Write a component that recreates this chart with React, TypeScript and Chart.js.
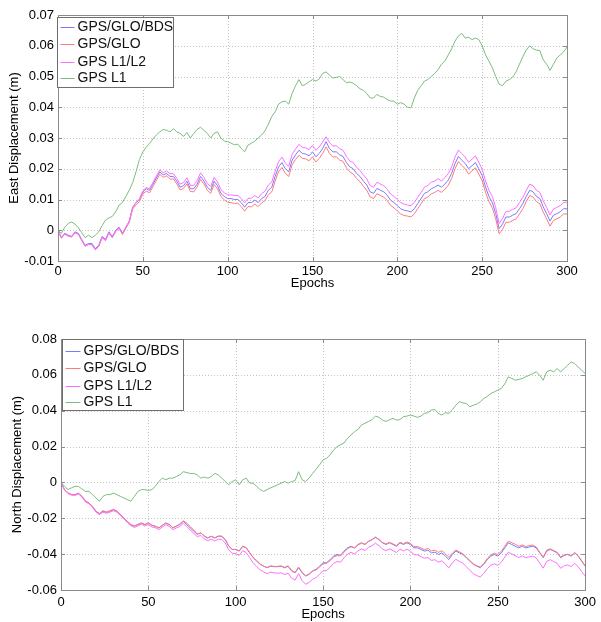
import React, { useEffect, useRef } from "react";
import { Chart, registerables } from "chart.js";
Chart.register(...registerables);

// ---- categories (epochs, every 2nd epoch) ----
const epochs: number[] = Array.from({ length: 151 }, (_, i) => i * 2);

const seriesNames = ["GPS/GLO/BDS", "GPS/GLO", "GPS L1/L2", "GPS L1"];

const xTickValues = [0, 50, 100, 150, 200, 250, 300];
const xTickLabels = ["0", "50", "100", "150", "200", "250", "300"];
const eastTickValues = [-0.01, 0, 0.01, 0.02, 0.03, 0.04, 0.05, 0.06, 0.07];
const eastTickLabels = ["-0.01", "0", "0.01", "0.02", "0.03", "0.04", "0.05", "0.06", "0.07"];
const northTickValues = [-0.06, -0.04, -0.02, 0, 0.02, 0.04, 0.06, 0.08];
const northTickLabels = ["-0.06", "-0.04", "-0.02", "0", "0.02", "0.04", "0.06", "0.08"];

// ---- East displacement (m) ----
const eastBDS = [
  0, -0.0024, -0.001, -0.0016, -0.002, -0.0005, -0.001, -0.003, -0.0049, -0.0043,
  -0.0043, -0.006, -0.0049, -0.002, -0.003, -0.0005, -0.002, 0, 0.001, -0.001,
  0.001, 0.003, 0.0075, 0.009, 0.01, 0.0125, 0.0135, 0.013, 0.015, 0.017,
  0.019, 0.018, 0.0185, 0.0175, 0.0175, 0.016, 0.014, 0.0145, 0.016, 0.0135,
  0.0135, 0.015, 0.0175, 0.016, 0.014, 0.013, 0.016, 0.0145, 0.012, 0.011,
  0.0103, 0.0103, 0.01, 0.01, 0.009, 0.0075, 0.009, 0.009, 0.0098, 0.009,
  0.0103, 0.011, 0.013, 0.014, 0.0175, 0.0206, 0.022, 0.02, 0.019, 0.0228,
  0.0245, 0.026, 0.025, 0.0248, 0.0242, 0.0255, 0.0239, 0.025, 0.0266, 0.0288,
  0.0266, 0.0255, 0.0255, 0.0245, 0.024, 0.022, 0.0206, 0.02, 0.0185, 0.0175,
  0.016, 0.0147, 0.0125, 0.012, 0.0136, 0.013, 0.0125, 0.0114, 0.0098, 0.009,
  0.008, 0.007, 0.0065, 0.0063, 0.006, 0.007, 0.0087, 0.0103, 0.012, 0.0125,
  0.0135, 0.014, 0.0147, 0.014, 0.015, 0.0163, 0.0185, 0.0217, 0.024, 0.0228,
  0.0217, 0.02, 0.021, 0.022, 0.02, 0.0178, 0.014, 0.011, 0.009, 0.0054,
  0.0005, 0.002, 0.0043, 0.0043, 0.0049, 0.0054, 0.007, 0.0087, 0.011, 0.013,
  0.0125, 0.011, 0.0103, 0.0076, 0.0054, 0.003, 0.0049, 0.0054, 0.006, 0.007,
  0.007,
];
const eastGLO = [
  0, -0.0026, -0.0012, -0.0018, -0.0022, -0.0008, -0.0013, -0.0033, -0.0052, -0.0046,
  -0.0047, -0.0063, -0.0052, -0.0024, -0.0034, -0.0009, -0.0024, -0.0004, 0.0006, -0.0014,
  0.0006, 0.0025, 0.0069, 0.0083, 0.0093, 0.0118, 0.0127, 0.0122, 0.0142, 0.0162,
  0.0182, 0.0172, 0.0177, 0.0166, 0.0167, 0.0151, 0.0131, 0.0136, 0.0151, 0.0126,
  0.0125, 0.0141, 0.0165, 0.0151, 0.013, 0.012, 0.0149, 0.0135, 0.011, 0.0099,
  0.0091, 0.009, 0.0087, 0.0088, 0.0077, 0.0062, 0.0077, 0.0076, 0.0085, 0.0077,
  0.0089, 0.0096, 0.0116, 0.0125, 0.016, 0.0191, 0.0204, 0.0185, 0.0175, 0.0213,
  0.023, 0.0244, 0.0234, 0.0232, 0.0226, 0.0239, 0.0222, 0.0234, 0.025, 0.0271,
  0.025, 0.0238, 0.0239, 0.0228, 0.0224, 0.0203, 0.019, 0.0183, 0.0168, 0.0158,
  0.0143, 0.013, 0.0108, 0.0103, 0.0119, 0.0113, 0.0108, 0.0097, 0.0081, 0.0073,
  0.0063, 0.0053, 0.0048, 0.0046, 0.0043, 0.0053, 0.007, 0.0086, 0.0103, 0.0108,
  0.0118, 0.0123, 0.013, 0.0123, 0.0133, 0.0146, 0.0168, 0.02, 0.0223, 0.0211,
  0.02, 0.0183, 0.0193, 0.0203, 0.0183, 0.0161, 0.0123, 0.0093, 0.0073, 0.0037,
  -0.0012, 0.0003, 0.0026, 0.0026, 0.0032, 0.0037, 0.0053, 0.007, 0.0093, 0.0113,
  0.0108, 0.0093, 0.0086, 0.0059, 0.0037, 0.0013, 0.0032, 0.0037, 0.0043, 0.0053,
  0.0053,
];
const eastL1L2 = [
  0, -0.0025, -0.0013, -0.0019, -0.0022, -0.0007, -0.0013, -0.0033, -0.0052, -0.0046,
  -0.0047, -0.0064, -0.0053, -0.0023, -0.0033, -0.0008, -0.0023, -0.0002, 0.0008, -0.0012,
  0.0008, 0.0028, 0.0074, 0.009, 0.0102, 0.0128, 0.0139, 0.0135, 0.0156, 0.0177,
  0.0197, 0.0187, 0.0193, 0.0184, 0.0184, 0.0169, 0.015, 0.0155, 0.0171, 0.0146,
  0.0146, 0.0161, 0.0187, 0.0172, 0.0152, 0.0142, 0.0172, 0.0157, 0.0132, 0.0122,
  0.0115, 0.0115, 0.0113, 0.0113, 0.0103, 0.0089, 0.0104, 0.0104, 0.0113, 0.0105,
  0.0119, 0.0127, 0.0147, 0.0157, 0.0192, 0.0223, 0.0238, 0.0218, 0.0208, 0.0247,
  0.0264, 0.0279, 0.027, 0.0268, 0.0262, 0.0276, 0.026, 0.0271, 0.0287, 0.0304,
  0.0285, 0.0274, 0.0275, 0.0265, 0.026, 0.024, 0.0225, 0.022, 0.0205, 0.0194,
  0.018, 0.0167, 0.0145, 0.014, 0.0156, 0.015, 0.0145, 0.0134, 0.0118, 0.011,
  0.01, 0.009, 0.0085, 0.0082, 0.008, 0.009, 0.0107, 0.0123, 0.014, 0.0146,
  0.0156, 0.016, 0.0168, 0.016, 0.0171, 0.0184, 0.0206, 0.0238, 0.0261, 0.0249,
  0.0238, 0.0221, 0.0231, 0.0242, 0.0221, 0.0199, 0.016, 0.013, 0.011, 0.0073,
  0.0022, 0.0038, 0.0061, 0.0062, 0.0068, 0.0073, 0.009, 0.0107, 0.013, 0.015,
  0.0145, 0.013, 0.0123, 0.0096, 0.0074, 0.005, 0.0069, 0.0074, 0.008, 0.009,
  0.0092,
];
const eastL1 = [
  0, -0.001, 0.001, 0.0022, 0.0027, 0.002, 0.0008, -0.0008, -0.0024, -0.0016,
  -0.0024, -0.0016, -0.0005, 0.0015, 0.0033, 0.004, 0.0045, 0.006, 0.0082, 0.009,
  0.011, 0.013, 0.0155, 0.019, 0.023, 0.0255, 0.027, 0.0283, 0.0297, 0.031,
  0.032, 0.0328, 0.0325, 0.032, 0.033, 0.032, 0.0315, 0.0305, 0.0318, 0.03,
  0.0315, 0.0328, 0.0335, 0.0325, 0.0315, 0.03, 0.0315, 0.032, 0.03, 0.029,
  0.0288, 0.0283, 0.0278, 0.028, 0.0266, 0.0255, 0.0277, 0.0283, 0.029, 0.03,
  0.031, 0.0323, 0.0345, 0.037, 0.0385, 0.041, 0.0418, 0.042, 0.041, 0.0445,
  0.047, 0.049, 0.047, 0.0475, 0.0483, 0.049, 0.0485, 0.0492, 0.051, 0.0515,
  0.0505, 0.0495, 0.0497, 0.05, 0.049, 0.048, 0.0482, 0.0478, 0.047, 0.046,
  0.0455, 0.0445, 0.043, 0.043, 0.0442, 0.0435, 0.0433, 0.0425, 0.042, 0.042,
  0.041, 0.0415, 0.041, 0.04, 0.0398, 0.043, 0.0455, 0.047, 0.0485, 0.049,
  0.05, 0.051, 0.0522, 0.054, 0.055, 0.057, 0.059, 0.0615, 0.0632, 0.064,
  0.0625, 0.0628, 0.062, 0.0625, 0.062, 0.06, 0.057, 0.055, 0.0528, 0.05,
  0.0475, 0.047, 0.0485, 0.049, 0.0498, 0.0515, 0.054, 0.0565, 0.0586, 0.06,
  0.059, 0.0586, 0.0584, 0.0554, 0.054, 0.052, 0.054, 0.056, 0.057, 0.058,
  0.0596,
];

// ---- North displacement (m) ----
const northBDS = [
  0, -0.004, -0.006, -0.0068, -0.0068, -0.006, -0.0078, -0.0105, -0.0115, -0.0133,
  -0.016, -0.0174, -0.016, -0.0167, -0.016, -0.0152, -0.016, -0.018, -0.0198, -0.0217,
  -0.0235, -0.0244, -0.0235, -0.0226, -0.0235, -0.0226, -0.024, -0.0244, -0.0254, -0.024,
  -0.0226, -0.0235, -0.0254, -0.0244, -0.0235, -0.0217, -0.0235, -0.0254, -0.0272, -0.029,
  -0.0281, -0.03, -0.031, -0.03, -0.031, -0.03, -0.03, -0.0319, -0.0356, -0.0374,
  -0.0374, -0.0383, -0.0356, -0.0365, -0.0393, -0.042, -0.0439, -0.0457, -0.0467, -0.0476,
  -0.0467, -0.047, -0.047, -0.0467, -0.0476, -0.0467, -0.0494, -0.0504, -0.0476, -0.0504,
  -0.0522, -0.0513, -0.0494, -0.0485, -0.0467, -0.0448, -0.0448, -0.043, -0.0411, -0.0402,
  -0.0407, -0.0383, -0.0365, -0.0356, -0.0365, -0.0346, -0.0337, -0.0346, -0.0328, -0.0319,
  -0.0305, -0.0319, -0.0337, -0.0346, -0.0337, -0.0346, -0.0356, -0.0337, -0.0346, -0.0337,
  -0.0346, -0.0365, -0.0365, -0.0374, -0.0383, -0.0378, -0.0393, -0.0389, -0.0402, -0.0393,
  -0.0411, -0.043, -0.0402, -0.0383, -0.0393, -0.0402, -0.042, -0.0439, -0.0457, -0.0467,
  -0.0476, -0.0457, -0.043, -0.0411, -0.0402, -0.0411, -0.0393, -0.0365, -0.0337, -0.0346,
  -0.0356, -0.0365, -0.0356, -0.0365, -0.036, -0.0356, -0.0365, -0.0393, -0.042, -0.0383,
  -0.0374, -0.0383, -0.0393, -0.042, -0.0407, -0.0402, -0.0411, -0.0393, -0.0411, -0.0439,
  -0.0467,
];
const northGLO = [
  0, -0.004, -0.0058, -0.0067, -0.0069, -0.0062, -0.0077, -0.0103, -0.0114, -0.0134,
  -0.0162, -0.0176, -0.0158, -0.0165, -0.0158, -0.015, -0.0159, -0.0181, -0.0199, -0.0219,
  -0.0236, -0.0243, -0.0234, -0.0227, -0.0236, -0.0225, -0.0238, -0.0245, -0.0253, -0.0238,
  -0.0227, -0.0236, -0.0252, -0.0243, -0.0232, -0.0214, -0.0228, -0.0246, -0.0266, -0.0288,
  -0.0282, -0.0298, -0.0309, -0.0301, -0.0309, -0.0299, -0.0301, -0.0318, -0.0354, -0.0373,
  -0.0375, -0.0381, -0.0357, -0.0363, -0.0391, -0.0419, -0.0436, -0.0455, -0.0468, -0.0474,
  -0.0465, -0.0469, -0.0468, -0.0466, -0.0474, -0.0465, -0.0491, -0.0502, -0.0472, -0.0501,
  -0.052, -0.0511, -0.0495, -0.0488, -0.0472, -0.0454, -0.0452, -0.0436, -0.0417, -0.0408,
  -0.041, -0.0388, -0.037, -0.0359, -0.0366, -0.0349, -0.0339, -0.0345, -0.033, -0.032,
  -0.0307, -0.0318, -0.0335, -0.0343, -0.0334, -0.0343, -0.0352, -0.0334, -0.0342, -0.0332,
  -0.034, -0.0358, -0.0357, -0.0366, -0.0375, -0.0368, -0.0382, -0.0378, -0.039, -0.0381,
  -0.0398, -0.0418, -0.0394, -0.0378, -0.0387, -0.0398, -0.0416, -0.0436, -0.0454, -0.0465,
  -0.0472, -0.0452, -0.0424, -0.0404, -0.0395, -0.0402, -0.0384, -0.0356, -0.0328, -0.0336,
  -0.0345, -0.0356, -0.0348, -0.0358, -0.0352, -0.0349, -0.036, -0.039, -0.0416, -0.0378,
  -0.037, -0.038, -0.039, -0.0416, -0.0404, -0.04, -0.0408, -0.0391, -0.0408, -0.0437,
  -0.0465,
];
const northL1L2 = [
  0, -0.0042, -0.0062, -0.0071, -0.0072, -0.0064, -0.0082, -0.0109, -0.0119, -0.0138,
  -0.0165, -0.018, -0.0166, -0.0172, -0.0166, -0.0158, -0.0166, -0.0186, -0.0204, -0.0223,
  -0.0241, -0.0251, -0.0242, -0.0233, -0.0243, -0.0234, -0.0248, -0.0253, -0.0263, -0.0249,
  -0.0236, -0.0245, -0.0264, -0.0254, -0.0246, -0.0228, -0.0246, -0.0266, -0.0284, -0.0303,
  -0.0295, -0.0315, -0.0325, -0.0316, -0.0327, -0.0317, -0.0318, -0.0338, -0.0376, -0.0395,
  -0.0397, -0.0407, -0.0381, -0.0391, -0.042, -0.0449, -0.0469, -0.0488, -0.0499, -0.0509,
  -0.0501, -0.0505, -0.0506, -0.0504, -0.0514, -0.0506, -0.0534, -0.0545, -0.0509, -0.0548,
  -0.0568, -0.0558, -0.054, -0.0531, -0.0512, -0.0493, -0.0492, -0.0473, -0.0452, -0.0441,
  -0.0445, -0.042, -0.04, -0.039, -0.0399, -0.0381, -0.0371, -0.038, -0.0362, -0.0353,
  -0.0339, -0.0353, -0.0371, -0.038, -0.0371, -0.038, -0.0391, -0.0372, -0.0382, -0.0373,
  -0.0383, -0.0403, -0.0404, -0.0414, -0.0423, -0.0419, -0.0435, -0.0431, -0.0445, -0.0437,
  -0.0456, -0.0476, -0.0448, -0.0429, -0.044, -0.045, -0.047, -0.049, -0.0509, -0.052,
  -0.0527, -0.0508, -0.0481, -0.0462, -0.0454, -0.0463, -0.0445, -0.0417, -0.0389, -0.0399,
  -0.0409, -0.0419, -0.041, -0.042, -0.0415, -0.0411, -0.0421, -0.045, -0.0478, -0.044,
  -0.0431, -0.0441, -0.0451, -0.0479, -0.0465, -0.046, -0.047, -0.0451, -0.047, -0.0497,
  -0.0522,
];
const northL1 = [
  0, -0.0022, -0.004, -0.003, -0.0022, -0.0022, -0.0037, -0.005, -0.005, -0.0068,
  -0.0087, -0.0105, -0.0078, -0.0068, -0.0068, -0.006, -0.0068, -0.0078, -0.0087, -0.0096,
  -0.0105, -0.0078, -0.005, -0.004, -0.004, -0.0045, -0.004, -0.0022, 0.0005, 0.0024,
  0.0015, 0.0024, 0.0024, 0.0033, 0.0042, 0.006, 0.0055, 0.005, 0.005, 0.0042,
  0.0024, 0.003, 0.0024, 0.0033, 0.005, 0.0042, 0.0024, 0.0005, -0.0013, 0.0005,
  0.0015, -0.0013, 0.0015, 0.0024, -0.0004, -0.0004, -0.0022, -0.004, -0.005, -0.004,
  -0.003, -0.0022, -0.0013, -0.0004, 0.0005, -0.0004, 0.0005, 0.001, 0.006, 0.0015,
  0.0005, 0.0024, 0.005, 0.0074, 0.0098, 0.0126, 0.0135, 0.0154, 0.018, 0.02,
  0.021, 0.022, 0.0246, 0.0265, 0.0283, 0.0296, 0.032, 0.033, 0.034, 0.035,
  0.037, 0.0363, 0.0348, 0.034, 0.035, 0.0357, 0.0348, 0.035, 0.0367, 0.037,
  0.0376, 0.037, 0.0363, 0.037, 0.0385, 0.0389, 0.0404, 0.0407, 0.0385, 0.0376,
  0.0389, 0.0385, 0.0404, 0.0431, 0.045, 0.0444, 0.044, 0.0422, 0.0431, 0.0437,
  0.045, 0.0468, 0.048, 0.0496, 0.0505, 0.0515, 0.0524, 0.055, 0.0589, 0.058,
  0.057, 0.0574, 0.058, 0.0589, 0.0598, 0.0607, 0.0617, 0.0598, 0.057, 0.0617,
  0.0626, 0.0617, 0.0635, 0.0617, 0.0635, 0.0654, 0.0672, 0.0663, 0.0644, 0.0626,
  0.0607,
];

const seriesColors = ["#7a7aff", "#ff7a7a", "#ff6eff", "#7dbb7d"];
const FONT = "'Liberation Sans', Arial, Helvetica, sans-serif";

type PanelCfg = {
  title: string;
  series: number[][];
  yMin: number;
  yMax: number;
  yTicks: number[];
  yTickLabels: string[];
  pad: { left: number; right: number; top: number; bottom: number };
  yWidth: number;
  xHeight: number;
  yTitlePad: number;
  xTickPad: number;
  xTitlePad: number;
  legend: { dx: number; dy: number; w: number; h: number; rowY: number[]; textX: number };
};

function makePlugins(cfg: PanelCfg) {
  const frame = {
    id: "matlabFrame",
    beforeDatasetsDraw(chart: any) {
      const { ctx, chartArea: a, scales } = chart;
      ctx.save();
      ctx.strokeStyle = "#c4c4c4";
      ctx.lineWidth = 1;
      ctx.setLineDash([1, 2]);
      xTickValues.forEach((v) => {
        if (v === xTickValues[0] || v === xTickValues[xTickValues.length - 1]) return;
        const px = Math.round(scales.x.getPixelForValue(v)) + 0.5;
        ctx.beginPath();
        ctx.moveTo(px, a.top);
        ctx.lineTo(px, a.bottom);
        ctx.stroke();
      });
      cfg.yTicks.forEach((v, i) => {
        if (i === 0 || i === cfg.yTicks.length - 1) return;
        const py = Math.round(scales.y.getPixelForValue(v)) + 0.5;
        ctx.beginPath();
        ctx.moveTo(a.left, py);
        ctx.lineTo(a.right, py);
        ctx.stroke();
      });
      ctx.restore();
    },
    afterDatasetsDraw(chart: any) {
      const { ctx, chartArea: a, scales } = chart;
      ctx.save();
      ctx.setLineDash([]);
      ctx.strokeStyle = "#8a8a8a";
      ctx.lineWidth = 1;
      xTickValues.forEach((v) => {
        const px = Math.round(scales.x.getPixelForValue(v)) + 0.5;
        ctx.beginPath();
        ctx.moveTo(px, a.bottom);
        ctx.lineTo(px, a.bottom - 4);
        ctx.moveTo(px, a.top);
        ctx.lineTo(px, a.top + 4);
        ctx.stroke();
      });
      cfg.yTicks.forEach((v) => {
        const py = Math.round(scales.y.getPixelForValue(v)) + 0.5;
        ctx.beginPath();
        ctx.moveTo(a.left, py);
        ctx.lineTo(a.left + 4, py);
        ctx.moveTo(a.right, py);
        ctx.lineTo(a.right - 4, py);
        ctx.stroke();
      });
      ctx.strokeRect(Math.round(a.left) + 0.5, Math.round(a.top) + 0.5, Math.round(a.right - a.left), Math.round(a.bottom - a.top));
      const L = cfg.legend;
      const lx = Math.round(a.left + L.dx) + 0.5;
      const ly = Math.round(a.top + L.dy) + 0.5;
      ctx.fillStyle = "#ffffff";
      ctx.fillRect(lx, ly, L.w, L.h);
      ctx.strokeStyle = "#6e6e6e";
      ctx.strokeRect(lx, ly, L.w, L.h);
      ctx.font = `14px ${FONT}`;
      ctx.textBaseline = "middle";
      ctx.textAlign = "left";
      seriesNames.forEach((name, i) => {
        const yy = ly + L.rowY[i];
        ctx.strokeStyle = seriesColors[i];
        ctx.lineWidth = 1;
        ctx.beginPath();
        ctx.moveTo(lx + 3, Math.round(yy) + 0.5);
        ctx.lineTo(lx + L.textX - 3, Math.round(yy) + 0.5);
        ctx.stroke();
        ctx.fillStyle = "#111111";
        ctx.fillText(name, lx + L.textX, yy + 1);
      });
      ctx.restore();
    },
  };
  return [frame];
}

function buildConfig(cfg: PanelCfg): any {
  const order = [4, 3, 2, 1];
  return {
    type: "line",
    data: {
      datasets: cfg.series.map((vals, i) => ({
        label: seriesNames[i],
        data: vals.map((v, j) => ({ x: epochs[j], y: v })),
        borderColor: seriesColors[i],
        backgroundColor: seriesColors[i],
        borderWidth: 1,
        pointRadius: 0,
        tension: 0,
        fill: false,
        order: order[i],
      })),
    },
    options: {
      responsive: false,
      animation: false,
      events: [],
      devicePixelRatio: 1,
      layout: { padding: cfg.pad },
      plugins: { legend: { display: false }, tooltip: { enabled: false }, title: { display: false } },
      scales: {
        x: {
          type: "linear",
          min: 0,
          max: 300,
          afterBuildTicks: (s: any) => {
            s.ticks = xTickValues.map((v) => ({ value: v }));
          },
          afterFit: (s: any) => {
            s.height = cfg.xHeight;
          },
          grid: { display: false, drawTicks: false },
          border: { display: false },
          ticks: {
            padding: cfg.xTickPad,
            maxRotation: 0,
            autoSkip: false,
            color: "#000",
            font: { family: FONT, size: 13 },
            callback: (_v: any, i: number) => xTickLabels[i],
          },
          title: {
            display: true,
            text: "Epochs",
            color: "#000",
            font: { family: FONT, size: 13 },
            padding: { top: 0, bottom: cfg.xTitlePad },
          },
        },
        y: {
          type: "linear",
          min: cfg.yMin,
          max: cfg.yMax,
          afterBuildTicks: (s: any) => {
            s.ticks = cfg.yTicks.map((v) => ({ value: v }));
          },
          afterFit: (s: any) => {
            s.width = cfg.yWidth;
          },
          grid: { display: false, drawTicks: false },
          border: { display: false },
          ticks: {
            padding: 4,
            autoSkip: false,
            color: "#000",
            font: { family: FONT, size: 13 },
            callback: (_v: any, i: number) => cfg.yTickLabels[i],
          },
          title: {
            display: true,
            text: cfg.title,
            color: "#000",
            font: { family: FONT, size: 13 },
            padding: { top: cfg.yTitlePad, bottom: 0 },
          },
        },
      },
    },
    plugins: makePlugins(cfg),
  };
}

const eastCfg: PanelCfg = {
  title: "East Displacement (m)",
  series: [eastBDS, eastGLO, eastL1L2, eastL1],
  yMin: -0.01,
  yMax: 0.07,
  yTicks: eastTickValues,
  yTickLabels: eastTickLabels,
  pad: { left: 0, right: 34, top: 15, bottom: 0 },
  yWidth: 58,
  xHeight: 39,
  yTitlePad: 7,
  xTickPad: 3,
  xTitlePad: 9,
  legend: { dx: -1, dy: 2, w: 116, h: 70, rowY: [9, 26, 44, 60], textX: 20 },
};

const northCfg: PanelCfg = {
  title: "North Displacement (m)",
  series: [northBDS, northGLO, northL1L2, northL1],
  yMin: -0.06,
  yMax: 0.08,
  yTicks: northTickValues,
  yTickLabels: northTickLabels,
  pad: { left: 0, right: 12, top: 34, bottom: 0 },
  yWidth: 61,
  xHeight: 32,
  yTitlePad: 10,
  xTickPad: 5,
  xTitlePad: 0,
  legend: { dx: 1, dy: 0, w: 121, h: 71, rowY: [11, 28, 46, 62], textX: 21 },
};

function Panel({ cfg, top, height }: { cfg: PanelCfg; top: number; height: number }) {
  const ref = useRef<HTMLCanvasElement | null>(null);
  useEffect(() => {
    if (!ref.current) return;
    const chart = new Chart(ref.current, buildConfig(cfg));
    return () => chart.destroy();
  }, [cfg]);
  return (
    <canvas
      ref={ref}
      width={601}
      height={height}
      style={{ position: "absolute", left: 0, top, width: 601, height }}
    />
  );
}

export default function App() {
  return (
    <div style={{ position: "absolute", left: 0, top: 0, width: 601, height: 622, background: "#ffffff", overflow: "hidden" }}>
      <Panel cfg={eastCfg} top={0} height={300} />
      <Panel cfg={northCfg} top={305} height={317} />
    </div>
  );
}
